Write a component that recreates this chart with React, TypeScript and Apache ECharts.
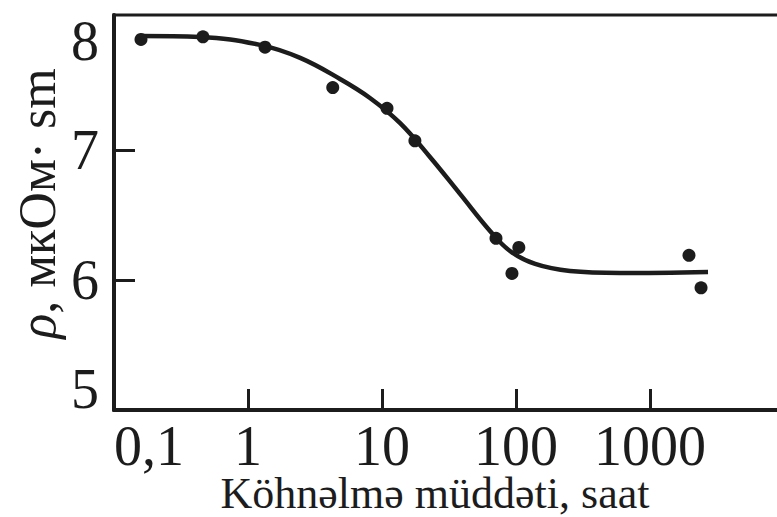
import React, { useEffect, useRef } from "react";
import * as echarts from "echarts";

// fitted curve (hours, resistivity)
const curveHours = [0.156, 0.439, 1.23, 2.45, 4.86, 8.13, 13.6, 22.8, 38.2, 64.0, 90.2, 139, 253, 597, 2710];
const curveRho = [7.877, 7.869, 7.808, 7.708, 7.546, 7.4, 7.208, 6.946, 6.662, 6.377, 6.223, 6.123, 6.069, 6.054, 6.062];

// measured points
const pointHours = [0.159, 0.461, 1.34, 4.29, 10.9, 17.6, 70.9, 105, 93.3, 1954, 2404];
const pointRho = [7.85, 7.87, 7.79, 7.48, 7.32, 7.07, 6.32, 6.25, 6.05, 6.19, 5.94];

// tick labels
const xTickValues = [0.1, 1, 10, 100, 1000];
const xTickLabels = ["0,1", "1", "10", "100", "1000"];
const yTickValues = [5, 6, 7, 8];
const yInnerTicks = [6, 7];

const INK = "#1c1c1c";
const FONT = "'Liberation Serif', 'DejaVu Serif', serif";

export default function App() {
  const ref = useRef<HTMLDivElement>(null);
  useEffect(() => {
    if (!ref.current) return;
    const chart = echarts.init(ref.current, null, { renderer: "svg" });
    const xLabel = (v: number) => {
      for (let i = 0; i < xTickValues.length; i++) {
        if (Math.abs(Math.log10(v) - Math.log10(xTickValues[i])) < 1e-6) return xTickLabels[i];
      }
      return "";
    };
    chart.setOption({
      animation: false,
      backgroundColor: "#ffffff",
      grid: {
        left: 114,
        top: 15,
        width: 670,
        height: 395,
        show: true,
        borderColor: INK,
        borderWidth: 3,
        backgroundColor: "transparent",
        containLabel: false,
        outerBoundsMode: "none",
      },
      xAxis: {
        type: "log",
        logBase: 10,
        min: 0.1,
        max: 10000,
        name: "Köhnəlmə müddəti, saat",
        nameLocation: "middle",
        nameGap: 62,
        nameMoveOverlap: false,
        nameTextStyle: { fontFamily: FONT, fontSize: 44, lineHeight: 42, color: INK, padding: [0, 28, 0, 0] },
        axisLine: { show: true, lineStyle: { color: INK, width: 4 } },
        axisTick: { show: true, inside: true, length: 21, lineStyle: { color: INK, width: 3 } },
        minorTick: { show: false },
        splitLine: { show: false },
        axisLabel: {
          formatter: (v: number) => xLabel(v),
          fontFamily: FONT,
          fontSize: 56,
          lineHeight: 44,
          color: INK,
          margin: 14,
          alignMinLabel: "left",
        },
      },
      yAxis: {
        type: "value",
        min: 5,
        max: 8.038,
        name: "{i|ρ}, мкОм· sm",
        nameLocation: "middle",
        nameGap: 51,
        nameMoveOverlap: false,
        nameTextStyle: {
          fontFamily: FONT,
          fontSize: 52,
          color: INK,
          padding: [0, 0, 0, 18],
          rich: { i: { fontFamily: FONT, fontSize: 52, fontStyle: "italic", color: INK } },
        },
        axisLine: { show: true, lineStyle: { color: INK, width: 4 } },
        axisTick: { show: true, inside: true, length: 21, customValues: yInnerTicks, lineStyle: { color: INK, width: 3 } },
        splitLine: { show: false },
        axisLabel: {
          customValues: yTickValues,
          formatter: (v: number) => (v === 8 ? "\n8" : v === 5 ? "5\n" : String(v)),
          fontFamily: FONT,
          fontSize: 56,
          lineHeight: 42,
          color: INK,
          margin: 15,
        },
      },
      series: [
        {
          type: "line",
          data: curveHours.map((h, i) => [h, curveRho[i]]),
          smooth: 0.4,
          showSymbol: false,
          lineStyle: { color: INK, width: 4.5 },
          z: 2,
        },
        {
          type: "scatter",
          data: pointHours.map((h, i) => [h, pointRho[i]]),
          symbol: "circle",
          symbolSize: 13,
          itemStyle: { color: INK, opacity: 1 },
          z: 3,
        },
      ],
    });
    return () => chart.dispose();
  }, []);
  return <div ref={ref} style={{ position: "fixed", left: 0, top: 0, width: 777, height: 517, background: "#fff" }} />;
}
